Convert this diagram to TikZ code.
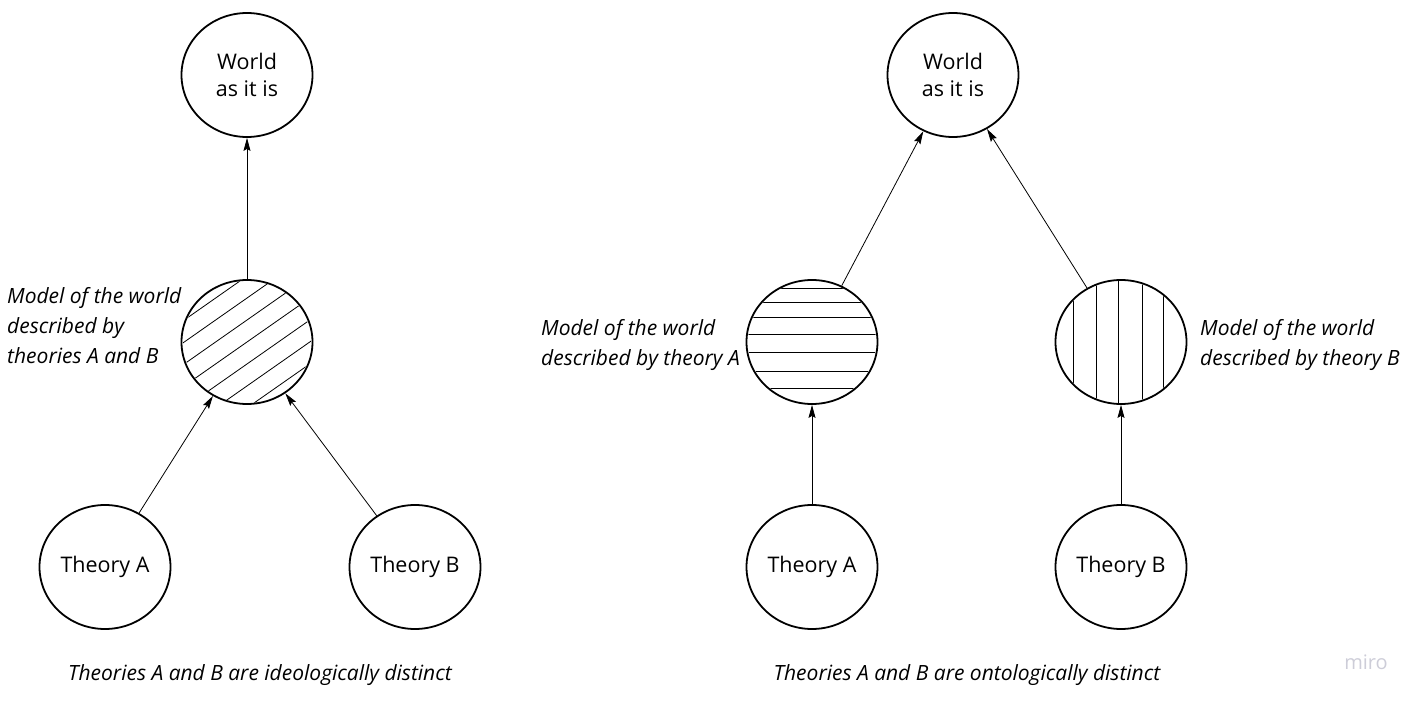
\documentclass[tikz,border=0pt]{standalone}
\usepackage{fontspec}
\setmainfont{Open Sans}
\usetikzlibrary{arrows.meta,shapes.geometric}
\definecolor{mirogrey}{RGB}{205,205,216}
\begin{document}
\begin{tikzpicture}[x=1pt, y=-1pt,
    every node/.style = {font=\fontsize{21.5}{27}\selectfont, align=center},
    bubble/.style = {shape=ellipse, draw, line width=1.8pt,
      minimum width=131pt, minimum height=124pt, inner sep=0pt},
    note/.style = {font=\itshape\fontsize{21}{30}\selectfont, align=left,
      inner sep=0pt, anchor=west},
    caption/.style = {font=\itshape\fontsize{21}{24}\selectfont, inner sep=0pt},
    link/.style = {-{Stealth[length=13pt,width=7pt,inset=2pt]}, line width=0.8pt},
    hatch/.style = {line width=0.8pt}]
  \useasboundingbox (0,0) rectangle (1422,703);

  % ideologically distinct
  \node[bubble] (worldL) at (247,75) {World\\as it is};
  \node[bubble] (modelL) at (247,342) {};
  \node[bubble] (theoryAL) at (105,567) {\raisebox{-2pt}{Theory A}};
  \node[bubble] (theoryBL) at (415,567) {\raisebox{-2pt}{Theory B}};
  \begin{scope}[shift={(247,342)}]
    \clip (0,0) ellipse [x radius=64, y radius=61];
    \begin{scope}[rotate=35]
      \foreach \k in {-3,...,3}
        \draw[hatch] (-90,\k*18) -- (90,\k*18);
    \end{scope}
  \end{scope}
  \node[note] (noteL) at (7,326) {Model of the world\\described by\\theories A and B};
  \draw[link] (modelL) -- (worldL);
  \draw[link] (theoryAL) -- (modelL);
  \draw[link] (theoryBL) -- (modelL);
  \node[caption] (capL) at (260,675) {Theories A and B are ideologically distinct};

  % ontologically distinct
  \node[bubble] (worldR) at (953,75) {World\\as it is};
  \node[bubble] (modelA) at (812,342) {};
  \node[bubble] (modelB) at (1121,342) {};
  \node[bubble] (theoryAR) at (812,567) {\raisebox{-2pt}{Theory A}};
  \node[bubble] (theoryBR) at (1121,567) {\raisebox{-2pt}{Theory B}};
  \begin{scope}[shift={(812,342)}]
    \clip (0,0) ellipse [x radius=64, y radius=61];
    \foreach \y in {-54,-40,-25,-8,10,29,46}
      \draw[hatch] (-70,\y) -- (70,\y);
  \end{scope}
  \begin{scope}[shift={(1121,342)}]
    \clip (0,0) ellipse [x radius=64, y radius=61];
    \foreach \x in {-48,-25,-3,21,42}
      \draw[hatch] (\x,-70) -- (\x,70);
  \end{scope}
  \node[note] (noteA) at (541,345) {Model of the world\\described by theory A};
  \node[note] (noteB) at (1200,345) {Model of the world\\described by theory B};
  \draw[link] (modelA) -- (worldR);
  \draw[link] (modelB) -- (worldR);
  \draw[link] (theoryAR) -- (modelA);
  \draw[link] (theoryBR) -- (modelB);
  \node[caption] (capR) at (967,675) {Theories A and B are ontologically distinct};

  \node[font=\fontsize{20}{22}\selectfont, text=mirogrey] (logo) at (1366,662) {miro};
\end{tikzpicture}
\end{document}
